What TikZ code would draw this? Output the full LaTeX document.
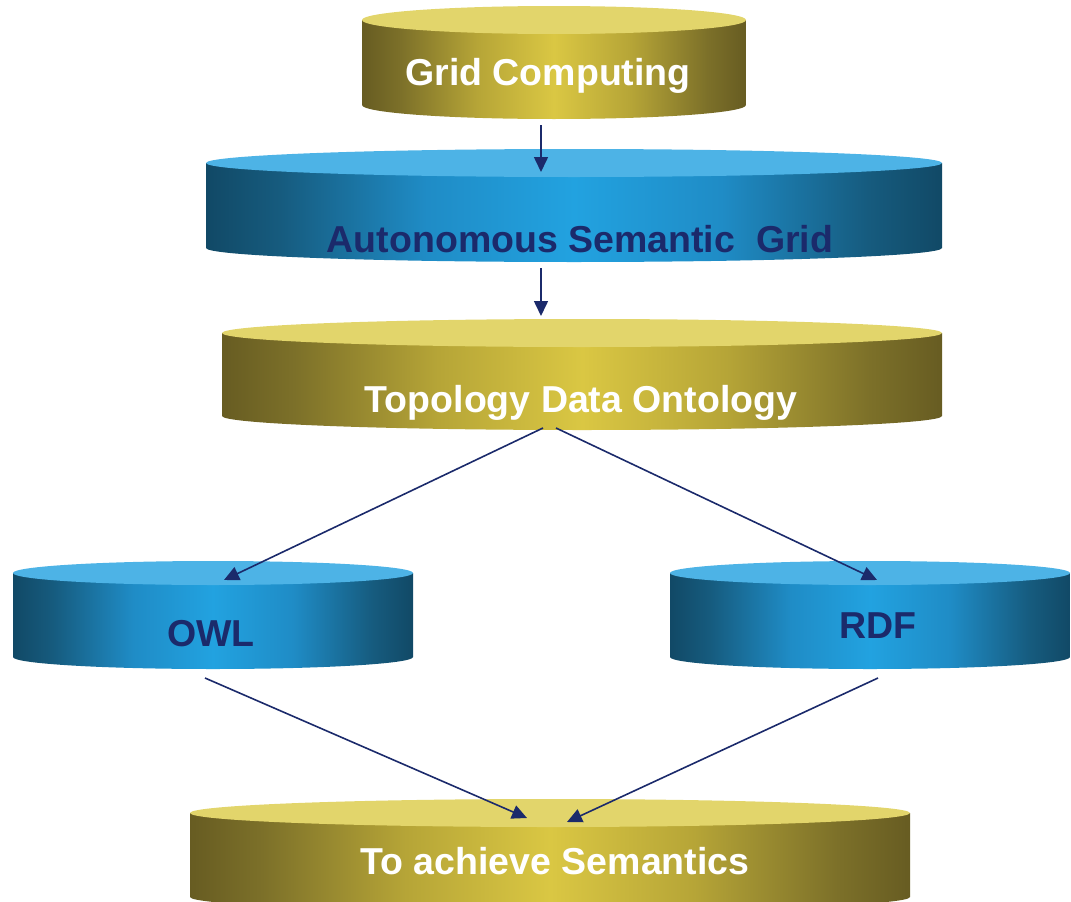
\documentclass[tikz,border=0pt]{standalone}
\usepackage{fontspec}
\setmainfont{Liberation Sans}
\usetikzlibrary{arrows.meta}

\definecolor{navy}{HTML}{1B2A6B}
\definecolor{goldtop}{HTML}{E2D56B}
\definecolor{bluetop}{HTML}{4DB3E6}
\definecolor{gA}{HTML}{675C22}
\definecolor{gB}{HTML}{7C7029}
\definecolor{gC}{HTML}{B6A537}
\definecolor{gD}{HTML}{DAC743}
\definecolor{bA}{HTML}{114966}
\definecolor{bB}{HTML}{165B7E}
\definecolor{bC}{HTML}{1F8CC6}
\definecolor{bD}{HTML}{22A2E0}

% side walls: dark at both edges, bright in the middle
\pgfdeclarehorizontalshading{goldside}{100bp}{color(0bp)=(gA); color(25bp)=(gA);
  color(30bp)=(gB); color(40bp)=(gC); color(50bp)=(gD); color(60bp)=(gC);
  color(70bp)=(gB); color(75bp)=(gA); color(100bp)=(gA)}
\pgfdeclarehorizontalshading{blueside}{100bp}{color(0bp)=(bA); color(25bp)=(bA);
  color(30bp)=(bB); color(40bp)=(bC); color(50bp)=(bD); color(60bp)=(bC);
  color(70bp)=(bB); color(75bp)=(bA); color(100bp)=(bA)}

\tikzset{
  lbl/.style={font=\fontsize{37.5}{42}\selectfont\bfseries, inner sep=0pt, anchor=base},
  arr/.style={draw=navy, line width=1.6pt, -{Triangle[length=15pt,width=14pt]}},
}

% drum: name, left x, right x, top-ellipse centre y, side bottom y, y radius, colour
\newcommand\drum[7]{%
  \pgfmathsetmacro\drx{(#3-#2)/2}%
  \pgfmathsetmacro\dcx{(#3+#2)/2}%
  \path[shading=#7side] (#2,#4) -- (#2,#5)
    arc[start angle=180, end angle=360, x radius=\drx pt, y radius=#6pt]
    -- (#3,#4) -- cycle;
  \fill[#7top] (\dcx,#4) ellipse[x radius=\drx pt, y radius=#6pt];
  \coordinate (#1-top) at (\dcx,#4);
  \coordinate (#1-bot) at ([yshift=-#6pt]\dcx,#5);
}

\begin{document}
\begin{tikzpicture}[x=1pt, y=-1pt]
\useasboundingbox (0,0) rectangle (1071,902);
\clip (0,0) rectangle (1071,902);

\drum{grid}{362}{746}{20}{105}{14}{gold}
\drum{asg}{206}{942}{163}{248}{14}{blue}
\drum{tdo}{222}{942}{333}{416}{14}{gold}
\drum{owl}{13}{413}{573}{657}{12}{blue}
\drum{rdf}{670}{1070}{573}{657}{12}{blue}
\drum{tas}{190}{910}{813}{897}{14}{gold}

\node[lbl, text=white] (gridtxt) at (548,85) {Grid Computing};
\node[lbl, text=navy]  (asgtxt)  at (580,252) {Autonomous Semantic\ \ Grid};
\node[lbl, text=white] (tdotxt)  at (581,412) {Topology Data Ontology};
\node[lbl, text=navy]  (owltxt)  at (211,646) {OWL};
\node[lbl, text=navy]  (rdftxt)  at (878,638) {RDF};
\node[lbl, text=white] (tastxt)  at (555,874) {To achieve Semantics};

\draw[arr] ([xshift=-13pt, yshift=-6pt]grid-bot) -- ([xshift=-33pt, yshift=-9pt]asg-top);
\draw[arr] ([xshift=-33pt, yshift=-6pt]asg-bot) -- ([xshift=-41pt, yshift=17pt]tdo-top);
\draw[arr] ([xshift=-39pt, yshift=2pt]tdo-bot) -- ([xshift=11pt, yshift=-7pt]owl-top);
\draw[arr] ([xshift=-26pt, yshift=2pt]tdo-bot) -- ([xshift=7pt, yshift=-7pt]rdf-top);
\draw[arr] ([xshift=-8pt, yshift=-9pt]owl-bot) -- ([xshift=-23pt, yshift=-5pt]tas-top);
\draw[arr] ([xshift=8pt, yshift=-9pt]rdf-bot) -- ([xshift=17pt, yshift=-9pt]tas-top);
\end{tikzpicture}
\end{document}
